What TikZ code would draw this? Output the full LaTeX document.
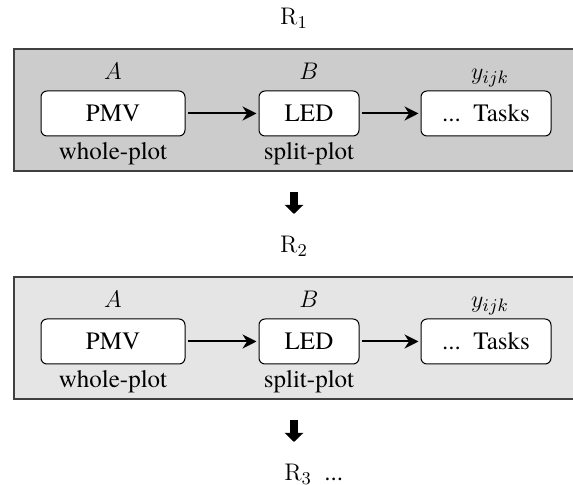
\documentclass[tikz,border=0pt]{standalone}
\usepackage[no-math]{fontspec}
\setmainfont{texgyretermes}[Extension=.otf, UprightFont=*-regular, ItalicFont=*-italic, BoldFont=*-bold, BoldItalicFont=*-bolditalic]
\usetikzlibrary{positioning,arrows.meta}

\begin{document}
\begin{tikzpicture}[
    x=0.5pt, y=-0.5pt,
    font=\fontsize{12.5}{14}\selectfont,
    panel/.style={draw=black!75, line width=0.6pt, minimum width=280.5pt, minimum height=61pt, inner sep=0pt},
    factor/.style={draw, line width=0.5pt, rounded corners=3pt, fill=white, minimum height=22.5pt, inner sep=0pt},
    lbl/.style={inner sep=1pt, text height=8.5pt, text depth=3pt},
    flow/.style={line width=1pt, -{Stealth[length=7pt,width=7pt]}, shorten <=1pt, shorten >=1pt},
    bigarrow/.style={line width=4pt, -{Triangle[width=9pt,length=4.5pt]}}
  ]
    \useasboundingbox (0,0) rectangle (573,485);

    % --- R1 ---
    \node[lbl] (r1) at (294,19) {$\mathrm{R}_1$};
    \node[panel, fill=gray!40] (p1) at (294.5,110) {};
    \node[factor, minimum width=72pt] (pmv1) at (113,113.5) {PMV};
    \node[factor, minimum width=50pt, right=36.5pt of pmv1] (led1) {LED};
    \node[factor, minimum width=65pt, right=30.5pt of led1] (tasks1) {...\ \ Tasks};
    \node[lbl, above=1.2pt of pmv1] (a1) {$A$};
    \node[lbl, above=1.2pt of led1] (b1) {$B$};
    \node[lbl, above=1.2pt of tasks1, xshift=2pt] (y1) {$y_{ijk}$};
    \node[lbl, below=2pt of pmv1] (wp1) {whole-plot};
    \node[lbl, below=2pt of led1] (sp1) {split-plot};
    \draw[flow] (pmv1) -- (led1);
    \draw[flow] (led1) -- (tasks1);

    % --- step down ---
    \coordinate (d1top) at (294,192);
    \coordinate (d1bot) at (294,214);
    \draw[bigarrow] (d1top) -- (d1bot);

    % --- R2 ---
    \node[lbl] (r2) at (294,247) {$\mathrm{R}_2$};
    \node[panel, fill=gray!20] (p2) at (294.5,338) {};
    \node[factor, minimum width=72pt] (pmv2) at (113,341.5) {PMV};
    \node[factor, minimum width=50pt, right=36.5pt of pmv2] (led2) {LED};
    \node[factor, minimum width=65pt, right=30.5pt of led2] (tasks2) {...\ \ Tasks};
    \node[lbl, above=1.2pt of pmv2] (a2) {$A$};
    \node[lbl, above=1.2pt of led2] (b2) {$B$};
    \node[lbl, above=1.2pt of tasks2, xshift=2pt] (y2) {$y_{ijk}$};
    \node[lbl, below=2pt of pmv2] (wp2) {whole-plot};
    \node[lbl, below=2pt of led2] (sp2) {split-plot};
    \draw[flow] (pmv2) -- (led2);
    \draw[flow] (led2) -- (tasks2);

    % --- step down ---
    \coordinate (d2top) at (294,420);
    \coordinate (d2bot) at (294,442);
    \draw[bigarrow] (d2top) -- (d2bot);

    % --- R3 ---
    \node[lbl, anchor=west] (r3) at (282,475) {$\mathrm{R}_3$\ \ ...};
\end{tikzpicture}
\end{document}
